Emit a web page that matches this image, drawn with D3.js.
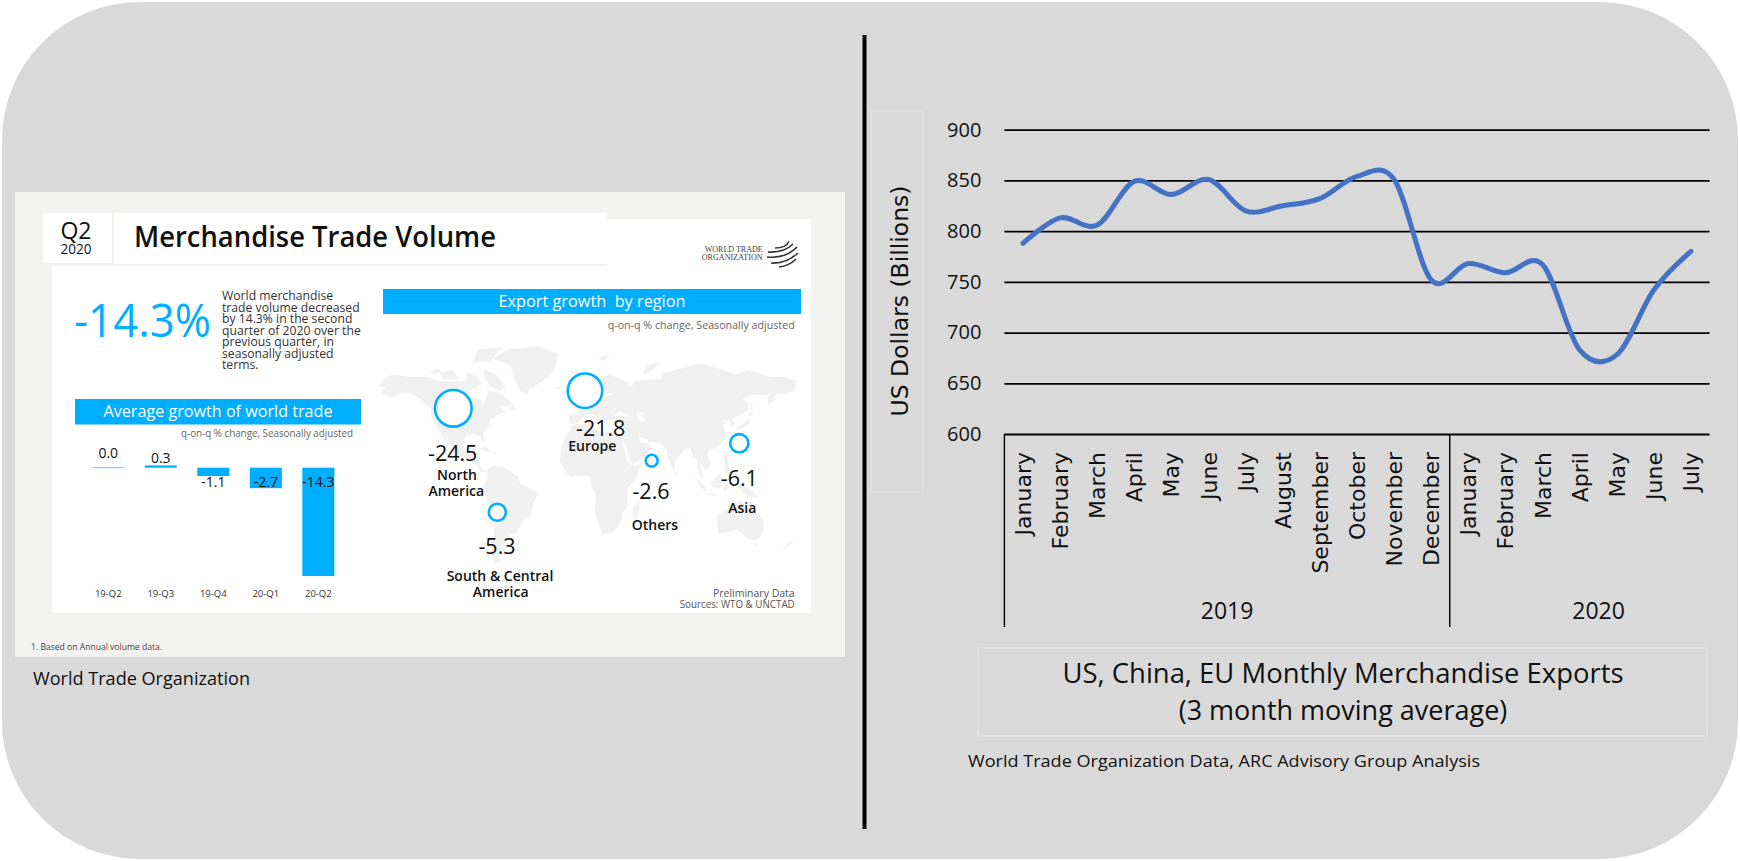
<!DOCTYPE html>
<html><head><meta charset="utf-8">
<script src="https://cdnjs.cloudflare.com/ajax/libs/d3/7.8.5/d3.min.js"></script>
<style>html,body{margin:0;padding:0;background:#fff}svg{display:block}text{font-family:"Open Sans",sans-serif}</style>
</head><body><svg id="c" width="1740" height="861"></svg>
<script>
// ---- Right chart data
const months = ["January","February","March","April","May","June","July","August","September","October","November","December","January","February","March","April","May","June","July"];
const exportsValues = [788,813,806,849,836,851,820,825,832,854,851,752,768,759,767,683,678,742,780];
const yearGroups = [{name:"2019",count:12},{name:"2020",count:7}];
const yTicks = [600,650,700,750,800,850,900];
// ---- Left chart data
const quarters = ["19-Q2","19-Q3","19-Q4","20-Q1","20-Q2"];
const worldGrowth = [0.0,0.3,-1.1,-2.7,-14.3];
const regionNames = ["North America","Europe","Others","Asia","South & Central America"];
const regionValues = [-24.5,-21.8,-2.6,-6.1,-5.3];
const paragraph = ["World merchandise","trade volume decreased","by 14.3% in the second","quarter of 2020 over the","previous quarter, in","seasonally adjusted","terms."];
// ---- Map outline (rough lon/lat rings)
const land = [
[[-168,66],[-162,70],[-156,71],[-141,70],[-128,70],[-115,68],[-108,68],[-95,68],[-94,72],[-85,70],[-82,67],[-88,64],[-94,60],[-92,57],[-82,55],[-80,51],[-79,55],[-77,60],[-78,62],[-70,61],[-65,59],[-60,55],[-56,52],[-60,50],[-66,50],[-65,47],[-61,46],[-66,44],[-70,43],[-71,41],[-75,39],[-76,35],[-81,31],[-80,26],[-81.5,25.5],[-83,29],[-89,30],[-94,29.5],[-97,27],[-97.5,22],[-95,18.5],[-91,18.5],[-90,21],[-87,21],[-88,16],[-84,15.5],[-83.5,11],[-81,9],[-78,9],[-79,7.5],[-83,8],[-87,13],[-94,16],[-100,17],[-105,20],[-109,25],[-113,31],[-110,23],[-115,29],[-118,34],[-122,37],[-124,42],[-124,48],[-128,51],[-133,56],[-140,60],[-148,61],[-152,59],[-160,55],[-158,58],[-165,60],[-165,63],[-161,64]],
[[-73,78],[-60,82],[-35,83.5],[-18,80],[-22,72],[-32,68],[-42,63],[-44,60],[-50,62],[-54,68],[-58,75]],
[[-80,73],[-70,71],[-62,66],[-66,62],[-74,65],[-80,70]],
[[-117,72],[-105,73],[-102,69],[-115,69]],
[[-90,76],[-85,82],[-65,83],[-75,77]],
[[-125,72],[-118,74],[-116,72],[-122,71]],
[[-59,47.5],[-53,47],[-56,51.5]],
[[-84,22],[-78,22.5],[-74,20],[-78,20]],
[[-74,19.5],[-69,19],[-71,18]],
[[-78,9],[-72,12],[-62,10.5],[-52,5],[-50,0],[-44,-2.5],[-35,-6],[-39,-14],[-41,-22],[-48,-26],[-53,-34],[-58,-35],[-62,-39],[-65,-45],[-68,-51],[-66,-55],[-71,-54],[-75,-48],[-73,-38],[-71,-30],[-70,-18],[-76,-14],[-81,-5],[-80,0],[-77,4],[-77,8]],
[[-6,35.5],[10,37],[11,33.5],[20,31],[25,32],[32,31],[35,28],[37,21],[39,15],[43,11.5],[51,12],[47,4],[40,-3],[39,-10],[40.5,-15],[35,-20],[35,-24],[32,-29],[26,-34],[19,-34.5],[15,-27],[12,-17],[13.5,-8],[9,-1],[9,4],[5,6],[-4,5],[-8,4.5],[-13,9],[-17,14.5],[-16,21],[-13,27],[-9,32]],
[[49,-12],[50,-16],[47,-25],[44,-24],[44,-17]],
[[-9,37],[-9,43],[-1,44],[-2,48],[-5,48.5],[3,51],[8,54],[8,57],[10.5,57],[11,54],[19,54.5],[22,58],[29,60],[23,60],[21,64],[24,66],[18,62],[18,59],[13,55.5],[11,59],[5,59],[5,62],[14,68],[25,71],[40,67.5],[41,66],[33,66],[44,66],[45,68],[60,69],[68,69],[67,72],[73,72],[80,73],[100,76],[113,74],[130,71],[140,73],[160,70],[170,70],[180,68.5],[180,65],[178,62],[170,60],[163,59],[162,55],[157,51],[156,57],[160,61],[155,59],[143,59],[135,55],[141,53],[140,48],[135,43],[130,42],[127,39],[129,36],[126,34.5],[125,39],[121,39],[118,39],[122,37],[119,35],[122,30],[119,25],[113,22],[108,21],[106,18],[109,13],[105,9],[100,13],[103,2],[100,6],[98,10],[97,16],[94,17],[92,22],[87,21],[80,15],[78,8],[73,17],[72,21],[67,25],[57,25.5],[56,27],[51,28],[48,30],[51,25],[56,25],[60,22],[55,17],[45,13],[43,13],[39,21],[35,28],[35,36],[27,37],[26,40],[23,38],[20,40],[14,45],[18,40],[16,38],[12,43],[8,44],[3,42],[0,39],[-2,37],[-6,36]],
[[-5,50],[1,51],[0,54],[-3,58.5],[-6,57],[-3,54]],
[[-10,52],[-6,52],[-6,55],[-9,54.5]],
[[-24,65],[-14,65],[-18,63.5]],
[[130,32],[136,34],[141,36],[141,41],[140,40],[136,36],[131,34]],
[[140,42],[145,43.5],[142,45.5]],
[[142,46],[144,50],[142,54]],
[[120,22],[122,25],[121,25]],
[[120,18],[122,18],[124,12],[126,7],[122,7],[120,14]],
[[109,1],[117,7],[119,1],[116,-4],[110,-2]],
[[95,5.5],[104,-2],[106,-6],[101,-3]],
[[105,-6.5],[114,-7.5],[114,-8.5],[106,-7.5]],
[[119,-5],[121,1],[125,1],[122,-5]],
[[131,-1],[141,-3],[150,-10],[141,-9],[138,-8],[133,-4]],
[[114,-22],[122,-18],[129,-15],[132,-11.5],[136,-12],[136,-15],[140,-17.5],[142,-11],[146,-19],[153,-26],[153,-32],[150,-37],[146,-39],[140,-38],[136,-35],[131,-31.5],[124,-33],[115,-34.5]],
[[145,-41],[148,-41],[147,-43]],
[[173,-41],[178,-38],[176,-41],[168,-46.5]],
[[80,9],[82,7],[80.5,6]],
[[15,78],[25,80],[20,77]],
[[52,71],[56,75],[68,77],[58,72]]
];
const inlandSeas = [
[[28,43],[33,46],[41,42],[35,42]],
[[47,45],[53,45],[54,38],[49,38]]
];

const blue = "#00AEFF";
const svg = d3.select("#c");
function T(g,x,y,s,o={}){
  const t=g.append("text").attr("x",x).attr("y",y).text(s)
   .attr("font-size",o.size||14).attr("fill",o.fill||"#111")
   .attr("text-anchor",o.anchor||"start").attr("font-weight",o.weight||400)
   .style("white-space","pre");
  if(o.family) t.style("font-family",o.family);
  if(o.len) t.attr("textLength",o.len).attr("lengthAdjust","spacingAndGlyphs");
  return t;
}
function R(g,x0,y0,x1,y1,fill,stroke){
  return g.append("rect").attr("x",x0).attr("y",y0).attr("width",x1-x0).attr("height",y1-y0).attr("fill",fill).attr("stroke",stroke||"none");
}
// Backdrop
svg.append("rect").attr("x",2).attr("y",2).attr("width",1736).attr("height",857).attr("rx",138).attr("ry",138).attr("fill","#D9D9D9");

// ------- Left infographic
const L = svg.append("g");
R(L,15,192,845,657,"#F2F2F1");
R(L,52,266,811,613,"#fff");
R(L,607,219,811,266,"#fff");
R(L,43,213,112,263,"#fff");
R(L,114,213,607,264,"#fff");
T(L,76,239,"Q2",{size:23,anchor:"middle"});
T(L,76,254,"2020",{size:14,anchor:"middle",len:31});
T(L,134,247,"Merchandise Trade Volume",{size:29,weight:600,len:362});
T(L,74,337,"-14.3%",{size:46,fill:blue,len:137});
paragraph.forEach((s,i)=>T(L,222,300+i*11.55,s,{size:12.2,fill:"#333"}));
// Average growth panel
R(L,75,399,361,424.5,blue);
T(L,218,417,"Average growth of world trade",{size:16.5,fill:"#fff",anchor:"middle",len:229});
T(L,353,437,"q-on-q % change, Seasonally adjusted",{size:10.5,fill:"#666",anchor:"end",len:172});
const qx = d3.scaleBand().domain(quarters).range([82,344.6]).paddingInner(.39).paddingOuter(.195);
const qy = d3.scaleLinear().domain([0,-14.3]).range([467.7,576]);
L.append("g").selectAll("rect").data(worldGrowth).join("rect")
  .attr("x",(d,i)=>qx(quarters[i])).attr("width",qx.bandwidth())
  .attr("y",d=>d===0?qy(0)-.5:Math.min(qy(d),qy(0)))
  .attr("height",d=>d===0?1:Math.abs(qy(d)-qy(0)))
  .attr("fill",d=>d===0?"#66CCFF":blue);
worldGrowth.forEach((d,i)=>{
  const y = d===0?458:(d>0?462.7:487);
  T(L,qx(quarters[i])+qx.bandwidth()/2,y,d.toFixed(1),{size:14,anchor:"middle"});
  T(L,qx(quarters[i])+qx.bandwidth()/2,597,quarters[i],{size:9.5,anchor:"middle",fill:"#333"});
});
T(L,31,650,"1. Based on Annual volume data.",{size:9.5,fill:"#444",len:131});
T(L,33,685,"World Trade Organization",{size:18,fill:"#111",len:217});
// Map
const lonX = d3.scaleLinear().domain([-180,180]).range([364,796]);
const latY = d3.scaleLinear().domain([-60,8,36,66,84]).range([571,472,424,386,345]);
const ringPath = d3.line().x(d=>lonX(d[0])).y(d=>latY(d[1])).curve(d3.curveLinearClosed);
L.append("g").selectAll("path").data(land).join("path").attr("d",ringPath).attr("fill","#F0F0F0");
L.append("g").selectAll("path").data(inlandSeas).join("path").attr("d",ringPath).attr("fill","#fff");
// Export panel
R(L,383,289,801,314,blue);
T(L,592,307,"Export growth  by region",{size:16.5,fill:"#fff",anchor:"middle",len:187});
T(L,794.7,329,"q-on-q % change, Seasonally adjusted",{size:10.5,fill:"#666",anchor:"end",len:187});
const rScale = d3.scaleSqrt().domain([0,24.5]).range([0,18.3]);
const regionCenters = [[453.3,408.3],[585,390.7],[651.7,460.7],[739.3,443.3],[497.3,512.3]];
L.append("g").selectAll("circle").data(regionValues).join("circle")
  .attr("cx",(d,i)=>regionCenters[i][0]).attr("cy",(d,i)=>regionCenters[i][1])
  .attr("r",d=>rScale(-d)).attr("fill","#fff").attr("stroke",blue).attr("stroke-width",2.6);
const valuePos=[[452.7,460.7],[600.7,435.7],[651,499.3],[739.3,485.7],[497,554]];
regionValues.forEach((d,i)=>T(L,valuePos[i][0],valuePos[i][1],d.toFixed(1),{size:21.5,anchor:"middle"}));
const namePos=[[[457,480,"North"],[456.3,496,"America"]],[[592.3,451,"Europe"]],[[655,530,"Others"]],[[742.3,513.3,"Asia"]],[[500,580.7,"South & Central"],[500.7,596.7,"America"]]];
namePos.forEach(a=>a.forEach(p=>T(L,p[0],p[1],p[2],{size:14,anchor:"middle",weight:600})));
T(L,794.7,597,"Preliminary Data",{size:10.5,fill:"#555",anchor:"end"});
T(L,794.7,608,"Sources: WTO & UNCTAD",{size:10.5,fill:"#555",anchor:"end",len:115});
// Logo
T(L,762.7,252,"WORLD TRADE",{size:7.6,fill:"#444",anchor:"end",family:"'Liberation Serif',serif",len:58});
T(L,762.7,259.5,"ORGANIZATION",{size:7.6,fill:"#444",anchor:"end",family:"'Liberation Serif',serif",len:61});
[[[775,248],[786,248],[789,241.5]],[[768,252],[784,253],[793,244]],[[767,257],[785,259],[797,247]],[[771,263],[786,264],[798,253]],[[779,267],[789,266],[796,259]]].forEach(p=>{
  const pa=d3.path(); pa.moveTo(p[0][0],p[0][1]); pa.quadraticCurveTo(p[1][0],p[1][1],p[2][0],p[2][1]);
  L.append("path").attr("d",pa.toString()).attr("fill","none").attr("stroke","#333").attr("stroke-width",1.6);
});

// ------- Divider
svg.append("rect").attr("x",862.5).attr("y",35).attr("width",4).attr("height",794).attr("fill","#000");

// ------- Right chart
const C = svg.append("g");
const x = d3.scaleBand().domain(d3.range(months.length)).range([1004.4,1709.5]);
const y = d3.scaleLinear().domain([600,900]).range([434,129.7]);
R(C,871,111,923,492,"none","#E3E3E3").attr("stroke-width",1);
R(C,978,648,1707,736,"none","#E8E8E8").attr("stroke-width",1);
const yAxis = d3.axisLeft(y).tickValues(yTicks).tickSize(-(1709.5-1004.4)).tickPadding(23);
const ya = C.append("g").attr("transform","translate(1004.4,0)").call(yAxis);
ya.select(".domain").remove();
ya.selectAll(".tick line").attr("stroke","#000").attr("stroke-width",1.8);
ya.selectAll(".tick text").attr("font-size",20).attr("fill","#111").style("font-family",'"Open Sans",sans-serif');
// Month axis
const xAxis = d3.axisBottom(x).tickFormat(i=>months[i]).tickSize(0);
const xa = C.append("g").attr("transform","translate(0,434)").call(xAxis);
xa.select(".domain").remove();
xa.selectAll(".tick text").attr("transform","translate(8,18) rotate(-90)").attr("text-anchor","end").attr("x",0).attr("y",0)
  .attr("font-size",22).attr("fill","#111").attr("dy",0).style("font-family",'"DejaVu Sans",sans-serif');
// year separators
let acc=0; const sep=[0];
yearGroups.forEach(g=>{
  const x0=x.range()[0]+acc*x.step(), x1=x0+g.count*x.step();
  T(C,(x0+x1)/2+(g.name==="2020"?19:0),619,g.name,{size:23,anchor:"middle"});
  acc+=g.count; if(acc<months.length) sep.push(acc);
});
sep.forEach(k=>C.append("line").attr("x1",x.range()[0]+k*x.step()).attr("x2",x.range()[0]+k*x.step()).attr("y1",434).attr("y2",627).attr("stroke","#000").attr("stroke-width",1.4));
// Series
const line = d3.line().x((d,i)=>x(i)+x.bandwidth()/2).y(d=>y(d)).curve(d3.curveCardinal.tension(0));
C.append("path").datum(exportsValues).attr("d",line).attr("fill","none").attr("stroke","#4472C4").attr("stroke-width",5).attr("stroke-linecap","round");
// Titles
T(C,0,0,"US Dollars (Billions)",{size:23.5,anchor:"middle",family:'"DejaVu Sans",sans-serif',fill:"#111"}).attr("transform","translate(908,301) rotate(-90)").attr("x",0).attr("y",0);
T(C,1343,683,"US, China, EU Monthly Merchandise Exports",{size:27,anchor:"middle",len:561});
T(C,1343,720,"(3 month moving average)",{size:27,anchor:"middle"});
T(C,968,767,"World Trade Organization Data, ARC Advisory Group Analysis",{size:17,fill:"#111",len:512});
</script></body></html>
